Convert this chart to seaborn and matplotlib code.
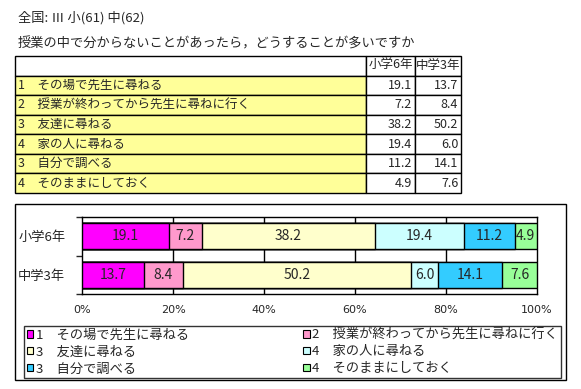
import pandas as pd
import matplotlib.pyplot as plt
import matplotlib.patches as mpatches
import seaborn as sns
import numpy as np

# ---- data ----
items = ['1　その場で先生に尋ねる', '2　授業が終わってから先生に尋ねに行く', '3　友達に尋ねる',
         '4　家の人に尋ねる', '3　自分で調べる', '4　そのままにしておく']
groups = ['小学6年', '中学3年']
elem_vals = [19.1, 7.2, 38.2, 19.4, 11.2, 4.9]
junior_vals = [13.7, 8.4, 50.2, 6.0, 14.1, 7.6]
colors = ['#FF00FF', '#FF99CC', '#FFFFCC', '#CCFFFF', '#33CCFF', '#99FF99']

title = '全国: Ⅲ 小(61) 中(62)'
question = '授業の中で分からないことがあったら，どうすることが多いですか'
xticks = [0, 20, 40, 60, 80, 100]

sns.set_style('white')
plt.rcParams['font.family'] = ['Noto Sans CJK JP', 'DejaVu Sans']

W, H = 581, 389
fig = plt.figure(figsize=(W / 100, H / 100), dpi=100)


def fx(px):
    return px / W


def fy(py):
    return 1 - py / H


fig.text(fx(18), fy(18), title, fontsize=9.5, va='center', ha='left')
fig.text(fx(18), fy(44), question, fontsize=9.5, va='center', ha='left')

# ---- table ----
ax_t = fig.add_axes([fx(15), fy(193), fx(461) - fx(15), fy(56) - fy(193)])
ax_t.axis('off')
cell_text = [['', groups[0], groups[1]]]
cell_cols = [['white', 'white', 'white']]
for it, a, b in zip(items, elem_vals, junior_vals):
    cell_text.append([it, f'{a:.1f}', f'{b:.1f}'])
    cell_cols.append(['#FFFF99', 'white', 'white'])
tw = 461 - 15
tab = ax_t.table(cellText=cell_text, cellColours=cell_cols, bbox=[0, 0, 1, 1],
                 colWidths=[351 / tw, 49 / tw, 46 / tw])
tab.auto_set_font_size(False)
for (r, c), cell in tab.get_celld().items():
    cell.set_edgecolor('black')
    cell.set_linewidth(1)
    txt = cell.get_text()
    txt.set_fontsize(9)
    if r == 0:
        cell._loc = 'center'
        txt.set_ha('center')
    elif c == 0:
        cell._loc = 'left'
        cell.PAD = 0.008
        txt.set_ha('left')
    else:
        cell._loc = 'right'
        cell.PAD = 0.06
        txt.set_ha('right')

# ---- chart frame ----
fig.patches.append(mpatches.Rectangle((fx(15), fy(380)), fx(566) - fx(15), fy(204) - fy(380),
                                      transform=fig.transFigure, fill=False,
                                      edgecolor='black', linewidth=1))

ax = fig.add_axes([fx(82), fy(294), fx(537) - fx(82), fy(217) - fy(294)])

rows = []
for g, vals in zip(groups, [elem_vals, junior_vals]):
    cum = np.cumsum(vals)
    for it, v, c in zip(items, vals, cum):
        rows.append({'group': g, 'item': it, 'value': v, 'cum': c})
df = pd.DataFrame(rows)

# stacked bars: draw cumulative totals from the last item back to the first
for it, col in reversed(list(zip(items, colors))):
    sub = df[df['item'] == it]
    sns.barplot(data=sub, x='cum', y='group', order=groups, color=col, saturation=1,
                edgecolor='black', linewidth=1, width=0.68, orient='h',
                errorbar=None, ax=ax, zorder=3)

for _, r in df.iterrows():
    yi = groups.index(r['group'])
    ax.text(r['cum'] - r['value'] / 2, yi, f"{r['value']:.1f}", ha='center', va='center',
            fontsize=10, zorder=4)

ax.set_xlim(0, 100)
ax.set_ylim(1.5, -0.5)
ax.set_xticks(xticks)
ax.set_xticklabels([f'{t}%' for t in xticks], fontsize=8, family='DejaVu Sans')
ax.tick_params(axis='x', length=0, pad=8)
ax.set_yticks([0, 1])
ax.set_yticklabels(groups, fontsize=9.5)
ax.tick_params(axis='y', length=0, pad=12)
ax.set_yticks([-0.5, 0.5, 1.5], minor=True)
ax.tick_params(axis='y', which='minor', length=4, width=1, direction='out', left=True)
ax.set_xlabel('')
ax.set_ylabel('')
for t in xticks[1:-1]:
    ax.axvline(t, color='black', linewidth=1, zorder=1)
for s in ax.spines.values():
    s.set_visible(True)
    s.set_color('black')
    s.set_linewidth(1)

# ---- legend ----
handles = [mpatches.Patch(facecolor=c, edgecolor='black', linewidth=0.8, label=it)
           for it, c in zip(items, colors)]
order = [0, 2, 4, 1, 3, 5]
leg = fig.legend([handles[i] for i in order], [items[i] for i in order], ncol=2,
                 loc='lower left', mode='expand',
                 bbox_to_anchor=(fx(24), fy(378), fx(561) - fx(24), fy(320) - fy(378)),
                 bbox_transform=fig.transFigure, borderaxespad=0, fontsize=9.5,
                 handlelength=0.5, handleheight=0.5, handletextpad=0.2,
                 labelspacing=0.3, borderpad=0.2, fancybox=False, frameon=True)
leg.get_frame().set_edgecolor('black')
leg.get_frame().set_linewidth(1)

fig.savefig('out.png', dpi=100)
